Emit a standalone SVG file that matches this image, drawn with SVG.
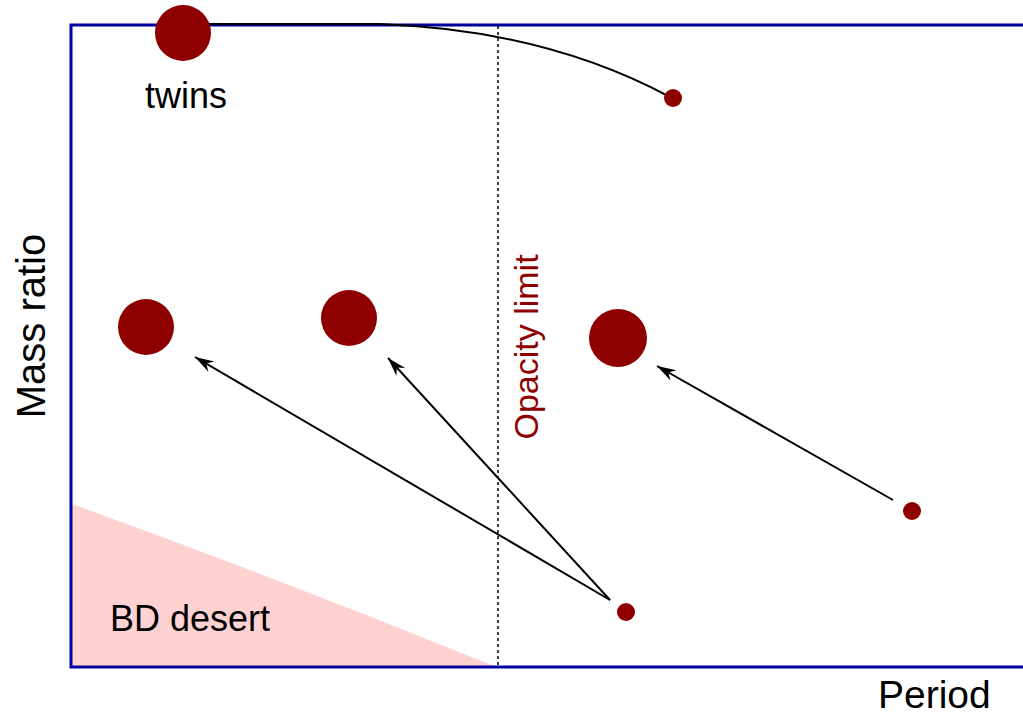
<svg xmlns="http://www.w3.org/2000/svg" width="1023" height="716" viewBox="0 0 1023 716">
<style>
.lbl{font-family:"Liberation Sans",Arial,sans-serif;fill:#000}
.red{fill:#8E0000}
.conn{stroke:#000;stroke-width:2;fill:none}
</style>
<defs>
<marker id="ah" markerUnits="userSpaceOnUse" markerWidth="24" markerHeight="14" refX="0" refY="0" viewBox="-20 -7 24 14" orient="auto">
<path d="M0,0 L-19,-6 L-13,0 L-19,6 Z" fill="#000"/>
</marker>
</defs>
<rect width="1023" height="716" fill="#fff"/>
<g id="desert">
<path d="M72,504 Q283,580 494,666 L72,666 Z" fill="#FFD2D2"/>
<text class="lbl" x="110" y="631" font-size="36">BD desert</text>
</g>
<g id="frame">
<rect x="71" y="25" width="980" height="642" fill="none" stroke="#0000A0" stroke-width="3"/>
</g>
<g id="opacity">
<line x1="498" y1="26" x2="498" y2="666" stroke="#000" stroke-width="1.5" stroke-dasharray="3,3"/>
<text class="red" font-family="'Liberation Sans',Arial,sans-serif" font-size="34" text-anchor="middle" transform="translate(538,347) rotate(-90)">Opacity limit</text>
</g>
<g id="axes">
<text class="lbl" font-size="40" text-anchor="middle" transform="translate(45,326) rotate(-90)">Mass ratio</text>
<text class="lbl" x="878" y="708" font-size="39">Period</text>
</g>
<g id="connectors">
<path class="conn" d="M205,24 L380,24 Q545,30 670,97"/>
<line class="conn" x1="610" y1="600" x2="195" y2="357" marker-end="url(#ah)"/>
<line class="conn" x1="610" y1="600" x2="388" y2="358" marker-end="url(#ah)"/>
<line class="conn" x1="893" y1="500" x2="657" y2="366" marker-end="url(#ah)"/>
</g>
<g id="twins">
<circle class="red" cx="183" cy="33" r="28"/>
<text class="lbl" x="145" y="108" font-size="36">twins</text>
</g>
<g id="dot-top"><circle class="red" cx="673" cy="98" r="9"/></g>
<g id="c1"><circle class="red" cx="146" cy="327" r="28"/></g>
<g id="c2"><circle class="red" cx="349" cy="318" r="28"/></g>
<g id="c3"><circle class="red" cx="618" cy="338" r="29"/></g>
<g id="dot-right"><circle class="red" cx="912" cy="511" r="9"/></g>
<g id="dot-bottom"><circle class="red" cx="626" cy="612" r="9"/></g>
</svg>
